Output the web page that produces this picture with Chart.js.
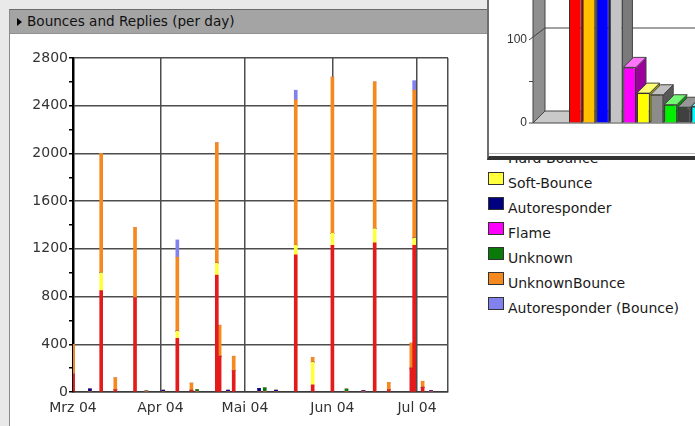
<!DOCTYPE html>
<html>
<head>
<meta charset="utf-8">
<script src="https://cdn.jsdelivr.net/npm/chart.js@4.4.1/dist/chart.umd.min.js"></script>
<style>
  html, body { margin: 0; padding: 0; }
  body { width: 695px; height: 426px; overflow: hidden; position: relative; background: #e9e9e9; font-family: "DejaVu Sans", sans-serif; }
  #panel { position: absolute; left: 9px; top: 9px; width: 700px; height: 430px; background: #fff; border-left: 1px solid #8a8a8a; border-top: 1px solid #6a6a6a; }
  #titlebar { position: absolute; left: 10px; top: 10px; width: 478px; height: 23px; background: #a4a4a4; border-bottom: 1px solid #909090; }
  #titlebar .arrow { position: absolute; left: 7px; top: 8px; width: 0; height: 0; border-top: 4px solid transparent; border-bottom: 4px solid transparent; border-left: 5px solid #000; }
  #titlebar span { position: absolute; left: 17px; top: 3px; font-size: 13.6px; color: #111; white-space: nowrap; }
  #main { position: absolute; left: 0; top: 0; z-index: 1; }
  #legend { position: absolute; left: 0; top: 0; z-index: 2; }
  .box { position: absolute; left: 488px; width: 14px; height: 11px; border: 1px solid #333; }
  .lbl { position: absolute; left: 508px; font-size: 14px; line-height: 16px; color: #1a1a1a; white-space: nowrap; }
  #inset { position: absolute; left: 487px; top: 0; width: 206px; height: 156px; background: #fff; border-left: 2px solid #6e6e6e; border-bottom: 4px solid #333; overflow: hidden; z-index: 3; }
  #inset .rule { position: absolute; left: 0; right: 0; bottom: 2px; height: 1px; background: #bdbdbd; }
  #bars3d { position: absolute; left: 0; top: -10px; }
</style>
</head>
<body>
<div id="panel"></div>
<div id="titlebar"><div class="arrow"></div><span>Bounces and Replies (per day)</span></div>
<canvas id="main" width="487" height="426"></canvas>
<div id="legend"></div>
<div id="inset"><canvas id="bars3d" width="230" height="175"></canvas><div class="rule"></div></div>

<script>
/* ---------- Bounces and Replies (per day) ---------- */

// day number since 1 Mar 2004
const days = [0, 6, 10, 15, 22, 26, 32, 37, 42, 44, 51, 52, 55, 57, 66, 68, 72, 79, 85, 92, 97, 103, 107, 112, 120, 121, 124, 127];

const hardBounce    = [150, 0, 850, 20, 790, 0, 0, 450, 15, 0, 980, 300, 0, 180, 0, 0, 0, 1150, 60, 1230, 0, 0, 1250, 20, 200, 1230, 40, 0];
const softBounce    = [0, 0, 150, 0, 0, 0, 0, 60, 0, 0, 100, 0, 0, 0, 0, 0, 0, 80, 190, 100, 0, 0, 120, 0, 0, 60, 0, 0];
const autoresponder = [0, 25, 0, 0, 0, 0, 15, 0, 0, 0, 0, 0, 15, 0, 30, 0, 15, 0, 0, 0, 0, 10, 0, 0, 0, 0, 0, 10];
const flame         = [0, 0, 0, 0, 0, 0, 0, 0, 0, 0, 0, 0, 0, 0, 0, 0, 0, 0, 0, 0, 0, 0, 0, 0, 0, 0, 0, 0];
const unknown       = [0, 0, 0, 0, 0, 10, 0, 0, 0, 20, 0, 0, 0, 0, 0, 35, 0, 0, 0, 0, 25, 0, 0, 0, 0, 0, 0, 0];
const unknownBounce = [250, 0, 1000, 100, 590, 0, 0, 620, 60, 0, 1010, 260, 0, 120, 0, 0, 0, 1220, 40, 1310, 0, 0, 1230, 60, 210, 1240, 50, 0];
const autoBounce    = [0, 0, 0, 0, 0, 0, 0, 145, 0, 0, 0, 0, 0, 0, 0, 0, 0, 80, 0, 0, 0, 0, 0, 0, 0, 80, 0, 0];

const seriesNames  = ['Hard-Bounce', 'Soft-Bounce', 'Autoresponder', 'Flame', 'Unknown', 'UnknownBounce', 'Autoresponder (Bounce)'];
const seriesColors = ['#e31b1b', '#ffff3c', '#000080', '#ff00ff', '#0a7a0a', '#f5891f', '#8282ee'];
const seriesData   = [hardBounce, softBounce, autoresponder, flame, unknown, unknownBounce, autoBounce];

const monthTicks  = [0, 31, 61, 92, 122, 133];
const monthLabels = ['Mrz 04', 'Apr 04', 'Mai 04', 'Jun 04', 'Jul 04'];

// inset 3D bar chart (top right window)
const insetCategories = ['1', '2', '3', '4', '5', '6', '7', '8', '9', '10'];
const insetValues = [240, 230, 220, 210, 67, 36, 34, 22, 19, 20];
const insetColors = ['#ff0000', '#ffc000', '#0000ff', '#c4c4c4', '#ff00ff', '#ffff00', '#8c8c8c', '#00ee00', '#404040', '#00ffff'];

const font = { family: 'DejaVu Sans', size: 14 };
const gridColor = '#4d4d4d';

new Chart(document.getElementById('main'), {
  type: 'bar',
  data: {
    datasets: seriesNames.map((name, s) => ({
      label: name,
      data: days.map((d, i) => ({ x: d, y: seriesData[s][i] })),
      backgroundColor: seriesColors[s],
      borderWidth: 0,
      barThickness: 3
    }))
  },
  options: {
    responsive: false,
    animation: false,
    events: [],
    layout: { padding: { top: 58, right: 39, bottom: 8, left: 0 } },
    plugins: { legend: { display: false }, tooltip: { enabled: false } },
    scales: {
      x: {
        type: 'linear', min: 0, max: 133, stacked: true, offset: false, z: 1,
        afterBuildTicks: s => { s.ticks = monthTicks.map(v => ({ value: v })); },
        afterFit: s => { s.height = 26; },
        ticks: { autoSkip: false, maxRotation: 0, padding: 8, color: '#333', font,
                 callback: (v, i) => monthLabels[i] || '' },
        grid: { color: gridColor, lineWidth: 1.5, drawTicks: false, offset: false },
        border: { color: '#3a3a3a', width: 1.5 }
      },
      y: {
        min: 0, max: 2800, stacked: true, z: 1,
        afterFit: s => { s.width = 73; },
        ticks: { stepSize: 200, padding: 1, color: '#333', font,
                 callback: v => (v % 400 === 0 ? v : '') },
        grid: { color: c => (c.tick && c.tick.value % 400 === 0 ? gridColor : 'rgba(0,0,0,0)'),
                lineWidth: 1.5, tickColor: '#000', tickLength: 4 },
        border: { color: '#000', width: 2.5 }
      }
    }
  }
});

// legend, built from the series list
const legend = document.getElementById('legend');
seriesNames.forEach((name, i) => {
  const top = 141 + i * 25;
  legend.insertAdjacentHTML('beforeend',
    `<div class="box" style="top:${top + 6}px;background:${seriesColors[i]}"></div>` +
    `<div class="lbl" style="top:${top + 9}px">${name}</div>`);
});

// ---------- inset 3D bars ----------
function shade(hex, f) {
  const n = parseInt(hex.slice(1), 16);
  const c = [n >> 16, (n >> 8) & 255, n & 255]
    .map(v => Math.round(f < 1 ? v * f : v + (255 - v) * (f - 1)));
  return `rgb(${c.join(',')})`;
}

function poly(ctx, pts, fill) {
  ctx.beginPath();
  pts.forEach(([px, py], i) => (i ? ctx.lineTo(px, py) : ctx.moveTo(px, py)));
  ctx.closePath();
  ctx.fillStyle = fill;
  ctx.fill();
  ctx.stroke();
}

const depth3d = {
  id: 'depth3d',
  beforeDatasetsDraw(chart) {
    const { ctx, chartArea: a, scales: { y } } = chart;
    const D = 12, d = 10;
    const wx = a.left - 35.5;
    const y0 = y.getPixelForValue(0);
    const top = a.top - 30;
    ctx.save();
    ctx.lineWidth = 1;
    ctx.strokeStyle = '#444';
    // floor and left wall
    poly(ctx, [[wx, y0], [a.right, y0], [a.right + D, y0 - D], [wx + D, y0 - D]], '#c9c9c9');
    poly(ctx, [[wx, y0], [wx, top], [wx + D, top - D], [wx + D, y0 - D]], '#8f8f8f');
    // grid line on back wall + diagonal tick
    [100].forEach(v => {
      const p = y.getPixelForValue(v);
      ctx.beginPath();
      ctx.moveTo(wx - 4, p);
      ctx.lineTo(wx + D, p - D);
      ctx.lineTo(a.right + D, p - D);
      ctx.stroke();
    });
    [50, 0].forEach(v => {
      const p = y.getPixelForValue(v);
      ctx.beginPath();
      ctx.moveTo(wx - 4, p);
      ctx.lineTo(wx, p);
      ctx.stroke();
    });
    // side and top faces of each bar
    chart.getDatasetMeta(0).data.forEach((bar, i) => {
      const c = insetColors[i];
      const l = bar.x - bar.width / 2, r = bar.x + bar.width / 2, t = bar.y, b = bar.base;
      poly(ctx, [[r, t], [r + d, t - d], [r + d, b - d], [r, b]], shade(c, 0.62));
      poly(ctx, [[l, t], [l + d, t - d], [r + d, t - d], [r, t]], shade(c, 1.45));
    });
    ctx.restore();
  }
};

new Chart(document.getElementById('bars3d'), {
  type: 'bar',
  data: {
    labels: insetCategories,
    datasets: [{
      data: insetValues,
      backgroundColor: insetColors,
      borderColor: '#333',
      borderWidth: 1,
      barPercentage: 0.93,
      categoryPercentage: 1
    }]
  },
  options: {
    responsive: false,
    animation: false,
    events: [],
    layout: { padding: { top: 8.5, right: 14.5, bottom: 42, left: 0 } },
    plugins: { legend: { display: false }, tooltip: { enabled: false } },
    scales: {
      x: { display: false },
      y: {
        min: 0, max: 150,
        afterFit: s => { s.width = 79.5; },
        // tick length (invisible) pushes the labels out to the left of the 3D wall
        ticks: { stepSize: 50, padding: 0, color: '#333', font: { family: 'Liberation Sans', size: 12 },
                 callback: v => (v === 0 || v === 100 ? v : '') },
        grid: { display: true, drawOnChartArea: false, drawTicks: true, tickLength: 41.5,
                color: 'rgba(0,0,0,0)', tickColor: 'rgba(0,0,0,0)' },
        border: { display: false }
      }
    }
  },
  plugins: [depth3d]
});
</script>
</body>
</html>
